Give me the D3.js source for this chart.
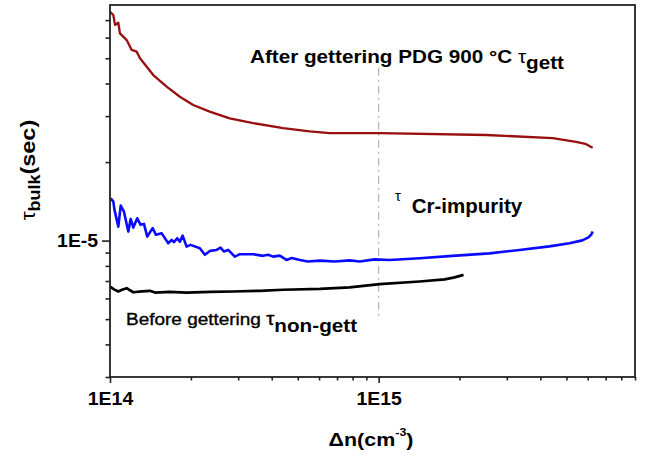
<!DOCTYPE html>
<html>
<head>
<meta charset="utf-8">
<script src="https://cdn.jsdelivr.net/npm/d3@7"></script>
<style>
  body { margin: 0; background: #fff; }
  text { font-family: "Liberation Sans", Arial, sans-serif; fill: #000; }
</style>
</head>
<body>
<svg id="grafico" width="649" height="457"></svg>
<script>
// After gettering (PDG 900 °C) - dark red
const gettX = [1.00e14, 1.029e14, 1.044e14, 1.074e14, 1.089e14, 1.154e14, 1.204e14, 1.257e14, 1.293e14, 1.449e14,
               1.625e14, 1.82e14, 2.04e14, 2.35e14, 2.79e14, 3.41e14, 4.41e14, 5.54e14, 6.57e14, 1.009e15,
               2.51e15, 4.45e15, 5.43e15, 5.88e15, 6.26e15];
const gettY = [7.54e-5, 7.32e-5, 6.71e-5, 6.84e-5, 6.23e-5, 5.87e-5, 5.38e-5, 5.30e-5, 5.00e-5, 4.31e-5,
               3.89e-5, 3.56e-5, 3.31e-5, 3.12e-5, 2.94e-5, 2.82e-5, 2.70e-5, 2.62e-5, 2.58e-5, 2.58e-5,
               2.54e-5, 2.47e-5, 2.39e-5, 2.35e-5, 2.27e-5];

// Cr-impurity - blue
const crX = [1.006e14, 1.029e14, 1.039e14, 1.074e14, 1.096e14, 1.127e14, 1.170e14, 1.194e14, 1.221e14, 1.263e14,
             1.300e14, 1.338e14, 1.376e14, 1.441e14, 1.483e14, 1.556e14, 1.647e14, 1.696e14, 1.729e14, 1.779e14,
             1.82e14, 1.864e14, 1.928e14, 1.995e14, 2.16e14, 2.255e14, 2.354e14, 2.493e14, 2.58e14, 2.653e14,
             2.753e14, 2.915e14, 3.043e14, 3.41e14, 3.715e14, 3.877e14, 4.047e14, 4.285e14, 4.54e14, 4.75e14,
             5.09e14, 5.45e14, 6.04e14, 6.86e14, 7.80e14, 8.50e14, 9.66e14, 1.099e15, 1.421e15, 1.884e15,
             2.586e15, 3.344e15, 4.32e15, 5.13e15, 5.73e15, 6.04e15, 6.19e15, 6.26e15];
const crY = [1.454e-5, 1.411e-5, 1.311e-5, 1.131e-5, 1.362e-5, 1.291e-5, 1.083e-5, 1.211e-5, 1.122e-5, 1.218e-5,
             1.149e-5, 1.159e-5, 1.036e-5, 1.116e-5, 1.052e-5, 1.068e-5, 9.77e-6, 1.006e-5, 9.86e-6, 1.021e-5,
             9.91e-6, 1.045e-5, 9.48e-6, 9.63e-6, 9.35e-6, 8.82e-6, 9.13e-6, 9.21e-6, 9.40e-6, 9.08e-6,
             9.21e-6, 8.68e-6, 8.87e-6, 8.87e-6, 8.74e-6, 8.82e-6, 8.68e-6, 8.76e-6, 8.43e-6, 8.58e-6,
             8.43e-6, 8.32e-6, 8.38e-6, 8.31e-6, 8.40e-6, 8.32e-6, 8.47e-6, 8.43e-6, 8.56e-6, 8.74e-6,
             8.93e-6, 9.21e-6, 9.50e-6, 9.77e-6, 1.002e-5, 1.029e-5, 1.056e-5, 1.083e-5];

// Before gettering - black
const naoGettX = [1.00e14, 1.035e14, 1.074e14, 1.108e14, 1.154e14, 1.187e14, 1.221e14, 1.315e14, 1.408e14, 1.47e14,
                  1.671e14, 1.928e14, 2.354e14, 2.873e14, 3.61e14, 4.41e14, 6.04e14, 7.80e14, 1.009e15, 1.421e15,
                  1.76e15, 1.917e15, 2.07e15];
const naoGettY = [6.67e-6, 6.50e-6, 6.38e-6, 6.48e-6, 6.57e-6, 6.45e-6, 6.34e-6, 6.39e-6, 6.42e-6, 6.32e-6,
                  6.36e-6, 6.32e-6, 6.36e-6, 6.38e-6, 6.42e-6, 6.48e-6, 6.53e-6, 6.62e-6, 6.81e-6, 6.97e-6,
                  7.10e-6, 7.23e-6, 7.39e-6];

// ticks
const xMajor = [1e14, 1e15];
const xRotulos = ["1E14", "1E15"];
const xMenor = [2e14, 3e14, 4e14, 5e14, 6e14, 7e14, 8e14, 9e14, 2e15, 3e15, 4e15, 5e15, 6e15, 7e15, 8e15, 9e15];
const yMajor = [1e-5];
const yRotulos = ["1E-5"];
const yMenor = [3e-6, 4e-6, 5e-6, 6e-6, 7e-6, 8e-6, 9e-6, 2e-5, 3e-5, 4e-5, 5e-5, 6e-5, 7e-5];

// vertical reference line at 1E15
const refX = [1e15, 1e15];
const refY = [4.6e-5, 5.05e-6];

const svg = d3.select("#grafico");
const esq = 110, dir = 635, topo = 5, base = 377;

const x = d3.scaleLog().domain([1e14, 9e15]).range([esq, dir]);
const y = d3.scaleLog().domain([3e-6, 8e-5]).range([base, topo]);

// eixos
const eixoX = svg.append("g").attr("transform", `translate(0,${base})`);
eixoX.append("g")
    .call(d3.axisBottom(x).tickValues(xMenor).tickSize(3.5).tickFormat(""))
    .call(g => g.select(".domain").remove());
eixoX.append("g")
    .call(d3.axisBottom(x).tickValues(xMajor).tickSize(6).tickPadding(9)
        .tickFormat((d, i) => xRotulos[i]))
    .call(g => g.select(".domain").remove());

const eixoY = svg.append("g").attr("transform", `translate(${esq},0)`);
eixoY.append("g")
    .call(d3.axisLeft(y).tickValues(yMenor).tickSize(4.5).tickFormat(""))
    .call(g => g.select(".domain").remove());
eixoY.append("g")
    .call(d3.axisLeft(y).tickValues(yMajor).tickSize(8).tickPadding(3)
        .tickFormat((d, i) => yRotulos[i]))
    .call(g => g.select(".domain").remove());

svg.selectAll(".tick line").attr("stroke", "#222").attr("stroke-width", 1.6);
svg.selectAll(".tick text")
    .attr("font-size", 18).attr("font-weight", "bold")
    .attr("font-family", "'Liberation Sans', Arial, sans-serif")
    .attr("fill", "#000")
    .attr("transform", "scale(1.08,1)");

// linha de referencia
svg.append("path")
    .attr("d", d3.line()(refX.map((v, i) => [x(v), y(refY[i])])))
    .attr("stroke", "#b4b4b4").attr("stroke-width", 1.2)
    .attr("stroke-dasharray", "8,4,2,4").attr("fill", "none");

// curvas
const linha = d3.line().x(d => x(d[0])).y(d => y(d[1]));
const series = [
    { xs: gettX,    ys: gettY,    cor: "#990f0f", w: 2.3 },
    { xs: crX,      ys: crY,      cor: "#0a0aff", w: 2.6 },
    { xs: naoGettX, ys: naoGettY, cor: "#000000", w: 2.7 },
];
series.forEach(s => {
    svg.append("path")
        .attr("d", linha(s.xs.map((v, i) => [v, s.ys[i]])))
        .attr("fill", "none").attr("stroke", s.cor).attr("stroke-width", s.w)
        .attr("stroke-linejoin", "round");
});

// moldura
svg.append("rect")
    .attr("x", esq).attr("y", topo).attr("width", dir - esq).attr("height", base - topo)
    .attr("fill", "none").attr("stroke", "#222").attr("stroke-width", 1.8);

// anotacoes
const t1 = svg.append("text").attr("transform", "translate(250,63) scale(1.15,1)")
    .attr("font-size", 18).attr("font-weight", "bold");
t1.append("tspan").text("After gettering PDG 900 °C ");
t1.append("tspan").attr("font-weight", "normal").text("τ");
t1.append("tspan").attr("dy", 6).text("gett");

const t2 = svg.append("text").attr("transform", "translate(126,325) scale(1.15,1)")
    .attr("font-size", 16.5).attr("stroke", "#000").attr("stroke-width", 0.35);
t2.append("tspan").text("Before gettering ");
t2.append("tspan").attr("font-size", 18).text("τ");
t2.append("tspan").attr("font-size", 18).attr("font-weight", "bold").attr("stroke-width", 0)
    .attr("dy", 7).text("non-gett");

svg.append("text").attr("x", 395).attr("y", 201).attr("font-size", 15).text("τ");
svg.append("text").attr("x", 411.7).attr("y", 213.3)
    .attr("font-size", 20.5).attr("font-weight", "bold").text("Cr-impurity");

// titulos dos eixos
const tx = svg.append("text").attr("transform", "translate(371,446) scale(1.13,1)")
    .attr("text-anchor", "middle").attr("font-size", 19).attr("font-weight", "bold");
tx.append("tspan").text("Δn(cm");
tx.append("tspan").attr("font-size", 11).attr("dy", -10).text("-3");
tx.append("tspan").attr("dy", 10).text(")");

const ty = svg.append("text").attr("transform", "translate(35,170) rotate(-90) scale(1.12,1)")
    .attr("text-anchor", "middle").attr("font-size", 20).attr("font-weight", "bold");
ty.append("tspan").attr("font-weight", "normal").text("τ");
ty.append("tspan").attr("font-size", 16).attr("dy", 5).text("bulk");
ty.append("tspan").attr("font-size", 21).attr("dy", -5).text("(sec)");
</script>
</body>
</html>
